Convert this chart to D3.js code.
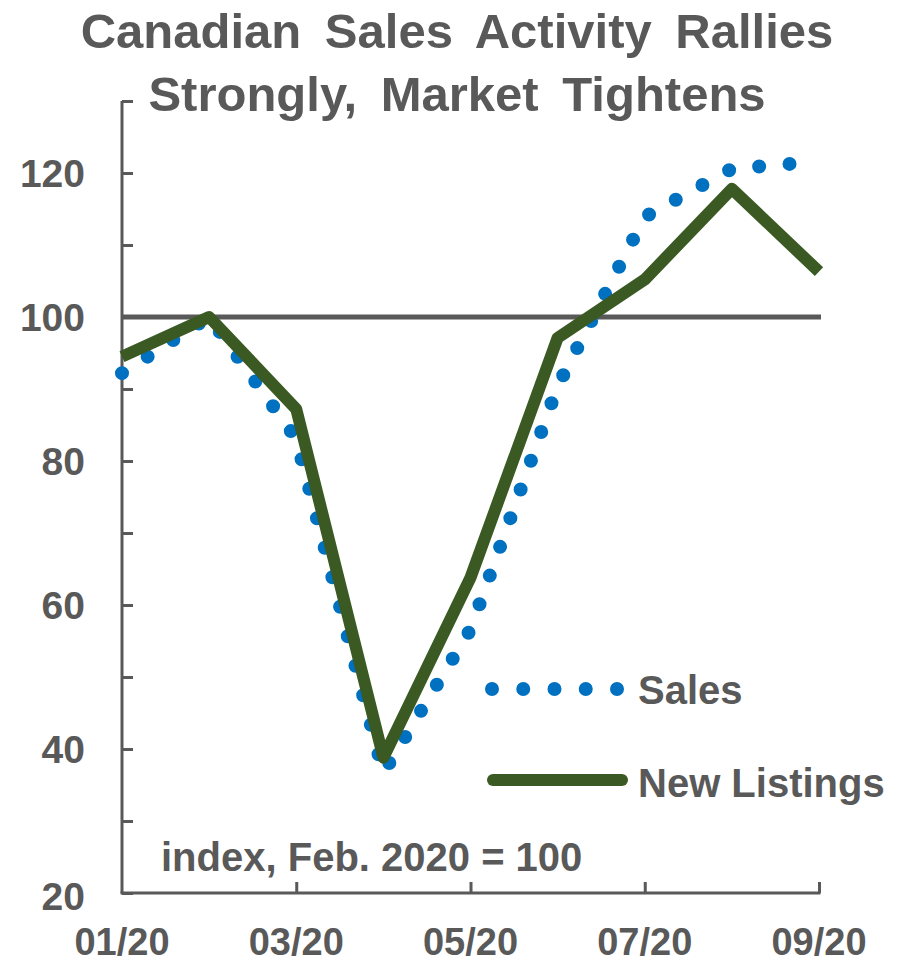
<!DOCTYPE html>
<html><head><meta charset="utf-8">
<script src="https://cdn.jsdelivr.net/npm/d3@7"></script>
<style>body{margin:0;background:#fff}svg{display:block}text{font-family:"Liberation Sans",Arial,sans-serif;font-weight:bold;fill:#595959}</style>
</head><body><svg id="c" width="908" height="964"></svg>
<script>
const months = ["01/20","02/20","03/20","04/20","05/20","06/20","07/20","08/20","09/20"];
const tickMonths = ["01/20","03/20","05/20","07/20","09/20"];
const salesValues = [92.2, 100, 83.1, 36.7, 56.6, 90.4, 113.9, 120.6, 121.6];
const listingValues = [94.5, 100, 87.2, 38.8, 63.8, 97.1, 105.2, 117.8, 106.3];
const yTicks = [20, 40, 60, 80, 100, 120];
const yMinorTicks = [20, 30, 40, 50, 60, 70, 80, 90, 100, 110, 120, 130];
const titleLines = ["Canadian Sales Activity Rallies", "Strongly, Market Tightens"];
const seriesNames = ["Sales", "New Listings"];
const note = "index, Feb. 2020 = 100";

const svg = d3.select("#c");
const grey = "#595959", blue = "#0070C0", green = "#3B5A23";
const x = d3.scalePoint().domain(months).range([122, 819]);
const y = d3.scaleLinear().domain([20, 130]).range([893, 101]);

// title
svg.selectAll(".title").data(titleLines).join("text")
  .attr("x", 457).attr("y", (d,i) => 48 + i*63)
  .attr("text-anchor", "middle").attr("font-size", 49)
  .attr("word-spacing", 10).text(d => d);

// 100 reference line
svg.append("line").attr("x1", x(months[0])).attr("x2", x(months[8]) + 2)
  .attr("y1", y(100)).attr("y2", y(100)).attr("stroke", grey).attr("stroke-width", 5);

// y axis with inward ticks
const yAxisG = svg.append("g").attr("transform", `translate(${x(months[0])},0)`)
  .call(d3.axisRight(y).tickValues(yMinorTicks).tickSize(11).tickFormat(""));
yAxisG.select(".domain").attr("stroke", grey).attr("stroke-width", 3).attr("d", `M0,${y(130)}V${y(20)}`);
yAxisG.selectAll(".tick line").attr("stroke", grey).attr("stroke-width", 3);

// y labels
svg.selectAll(".ylab").data(yTicks).join("text")
  .attr("x", 85)
  .attr("y", d => d === 20 ? y(d) + 17 : y(d) + 14)
  .attr("text-anchor", "end").attr("font-size", 39).text(d => d);

// x axis with inward ticks
const xAxisG = svg.append("g").attr("transform", `translate(0,${y(20)})`)
  .call(d3.axisTop(x).tickValues(tickMonths.slice(1)).tickSize(11).tickFormat(""));
xAxisG.select(".domain").attr("stroke", grey).attr("stroke-width", 3).attr("d", `M${x(months[0])-1.5},0H${x(months[8])+1.5}`);
xAxisG.selectAll(".tick line").attr("stroke", grey).attr("stroke-width", 3);
svg.selectAll(".xlab").data(tickMonths).join("text")
  .attr("x", d => x(d)).attr("y", 955).attr("text-anchor", "middle")
  .attr("font-size", 38).text(d => d);

// lines
const line = d3.line().x((d,i) => x(months[i])).y(d => y(d));
svg.append("path").attr("d", line(salesValues)).attr("fill", "none")
  .attr("stroke", blue).attr("stroke-width", 14).attr("stroke-linecap", "round")
  .attr("stroke-dasharray", "0 30.5");
svg.append("path").attr("d", line(listingValues)).attr("fill", "none")
  .attr("stroke", green).attr("stroke-width", 12).attr("stroke-linejoin", "round");

// legend
svg.append("line").attr("x1", 492).attr("x2", 620).attr("y1", 689).attr("y2", 689)
  .attr("stroke", blue).attr("stroke-width", 14).attr("stroke-linecap", "round").attr("stroke-dasharray", "0 31.25");
svg.append("line").attr("x1", 493).attr("x2", 622).attr("y1", 780).attr("y2", 780)
  .attr("stroke", green).attr("stroke-width", 12).attr("stroke-linecap", "round");
svg.selectAll(".leg").data(seriesNames).join("text")
  .attr("x", 638).attr("y", (d,i) => 704 + i*93).attr("font-size", 40).text(d => d);

// note
svg.append("text").attr("x", 161).attr("y", 871).attr("font-size", 40).text(note);
</script></body></html>
